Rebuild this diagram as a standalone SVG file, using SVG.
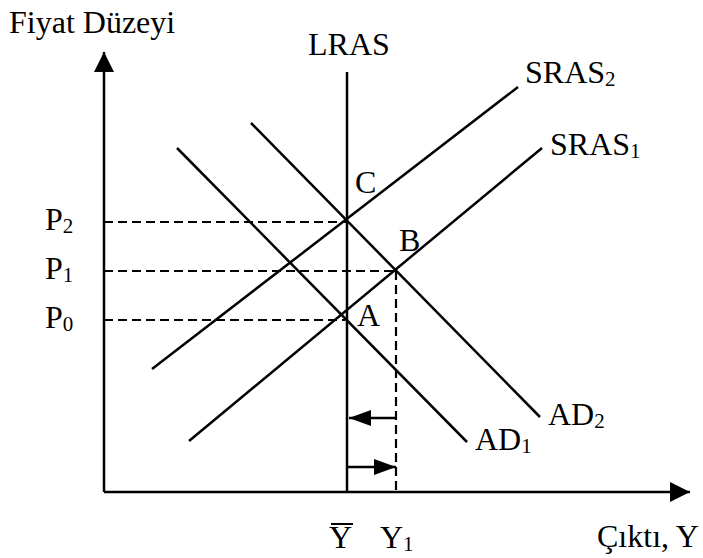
<svg xmlns="http://www.w3.org/2000/svg" width="703" height="558" viewBox="0 0 703 558">
<defs>
<style>
.ln{stroke:#000;stroke-width:2.5;fill:none;stroke-linecap:butt}
.ds{stroke:#000;stroke-width:2.2;fill:none;stroke-dasharray:9 5}
.t{font-family:"Liberation Serif","Times New Roman",serif;font-size:32px;fill:#000}
.s{font-size:21px}
</style>
<marker id="ah" viewBox="0 0 20 20" refX="20" refY="10" markerWidth="20" markerHeight="20" markerUnits="userSpaceOnUse" orient="auto">
<path d="M0,0 L20,10 L0,20 Z" fill="#000"/>
</marker>
<marker id="sh" viewBox="0 0 22 16" refX="22" refY="8" markerWidth="22" markerHeight="16" markerUnits="userSpaceOnUse" orient="auto">
<path d="M0,0 L22,8 L0,16 Z" fill="#000"/>
</marker>
</defs>
<rect width="703" height="558" fill="#fff"/>
<g id="axes">
<line class="ln" x1="104" y1="492" x2="104" y2="52" marker-end="url(#ah)"/>
<line class="ln" x1="104" y1="492" x2="690" y2="492" marker-end="url(#ah)"/>
<text class="t" x="9" y="33">Fiyat Düzeyi</text>
<text class="t" x="597" y="547">Çıktı, Y</text>
</g>
<g id="LRAS">
<line class="ln" x1="347" y1="72" x2="347" y2="492"/>
<text class="t" x="308" y="55">LRAS</text>
</g>
<g id="SRAS1">
<line class="ln" x1="189" y1="441" x2="542" y2="148"/>
<text class="t" x="550" y="155">SRAS<tspan class="s" dy="3">1</tspan></text>
</g>
<g id="SRAS2">
<line class="ln" x1="152" y1="369" x2="518" y2="87"/>
<text class="t" x="525" y="83">SRAS<tspan class="s" dy="3">2</tspan></text>
</g>
<g id="AD1">
<line class="ln" x1="177" y1="148" x2="467" y2="442"/>
<text class="t" x="475" y="450">AD<tspan class="s" dy="3">1</tspan></text>
</g>
<g id="AD2">
<line class="ln" x1="251" y1="123" x2="540" y2="417"/>
<text class="t" x="548" y="425">AD<tspan class="s" dy="3">2</tspan></text>
</g>
<g id="connectors">
<line class="ds" x1="104" y1="222" x2="347" y2="222"/>
<line class="ds" x1="104" y1="271" x2="397" y2="271"/>
<line class="ds" x1="104" y1="320" x2="345" y2="320"/>
<line class="ds" x1="396" y1="271" x2="396" y2="492"/>
<line class="ln" x1="396" y1="418" x2="349" y2="418" marker-end="url(#sh)"/>
<line class="ln" x1="347" y1="467" x2="396" y2="467" marker-end="url(#sh)"/>
</g>
<g id="labels">
<text class="t" x="45" y="230">P<tspan class="s" dy="3">2</tspan></text>
<text class="t" x="45" y="279">P<tspan class="s" dy="3">1</tspan></text>
<text class="t" x="45" y="328">P<tspan class="s" dy="3">0</tspan></text>
<text class="t" x="357" y="326">A</text>
<text class="t" x="399" y="251">B</text>
<text class="t" x="355" y="193">C</text>
<text class="t" x="329" y="548">Y</text>
<line x1="331" y1="524" x2="353" y2="524" stroke="#000" stroke-width="2"/>
<text class="t" x="380" y="548">Y<tspan class="s" dy="3">1</tspan></text>
</g>
</svg>
